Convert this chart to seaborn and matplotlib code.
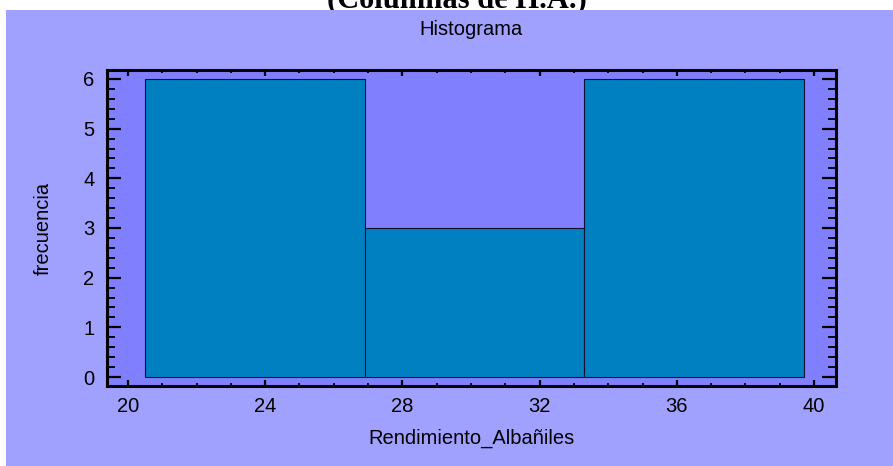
import numpy as np
import pandas as pd
import matplotlib.pyplot as plt
import matplotlib.patches as mpatches
from matplotlib.ticker import MultipleLocator
import seaborn as sns

# histogram bins
bin_edges = [20.5, 26.9, 33.3, 39.7]
counts = [6, 3, 6]
bin_centers = [(a + b) / 2 for a, b in zip(bin_edges[:-1], bin_edges[1:])]

x_ticks = [20, 24, 28, 32, 36, 40]
y_ticks = [0, 1, 2, 3, 4, 5, 6]

df = pd.DataFrame({"Rendimiento_Albañiles": bin_centers, "frecuencia": counts})

sns.set_style("ticks")
plt.rcParams['font.family'] = ['Liberation Sans', 'DejaVu Sans']
plt.rcParams['text.color'] = 'black'
plt.rcParams['axes.labelcolor'] = 'black'
plt.rcParams['xtick.color'] = 'black'
plt.rcParams['ytick.color'] = 'black'

fig = plt.figure(figsize=(8.93, 4.66), dpi=100, facecolor="white")
ax = fig.add_axes([107 / 893, 1 - 386 / 466, 729 / 893, 316 / 466])

# lavender panel behind the axes, page text peeking out above it
panel = mpatches.Rectangle((6 / 893, 0), 1, 1 - 10 / 466, transform=fig.transFigure,
                           facecolor="#a0a0ff", edgecolor="none", zorder=-0.5)
fig.patches.append(panel)
fig.text(0.512, 1 - 7 / 466, "(Columnas de H.A.)", ha="center", va="baseline",
         fontsize=22, fontweight="bold", family="Liberation Serif", zorder=-1)

sns.histplot(data=df, x="Rendimiento_Albañiles", weights="frecuencia", bins=bin_edges,
             color="#0080c0", alpha=1, edgecolor="#101030", linewidth=0.8, ax=ax)

ax.set_facecolor("#8080ff")
ax.set_xlim(19.39, 40.64)
ax.set_ylim(-0.18, 6.18)
ax.set_xticks(x_ticks)
ax.set_yticks(y_ticks)
ax.xaxis.set_minor_locator(MultipleLocator(1))
ax.yaxis.set_minor_locator(MultipleLocator(0.2))

for s in ax.spines.values():
    s.set_visible(True)
    s.set_linewidth(2.2)
    s.set_color("black")

ax.tick_params(axis="x", which="major", direction="in", length=4, width=1.6,
               top=True, labelsize=14.5, pad=8)
ax.tick_params(axis="x", which="minor", direction="in", length=2, width=1.3, top=True)
ax.tick_params(axis="y", which="major", direction="in", length=10, width=1.6,
               right=True, labelsize=14.5, pad=9)
ax.tick_params(axis="y", which="minor", direction="in", length=5.5, width=1.3, right=True)

ax.set_xlabel("Rendimiento_Albañiles", fontsize=14.5, labelpad=9)
ax.set_ylabel("frecuencia", fontsize=14.5, labelpad=22)
ax.set_title("Histograma", fontsize=14.5, pad=25)

plt.savefig("out.png", dpi=100, facecolor=fig.get_facecolor())
